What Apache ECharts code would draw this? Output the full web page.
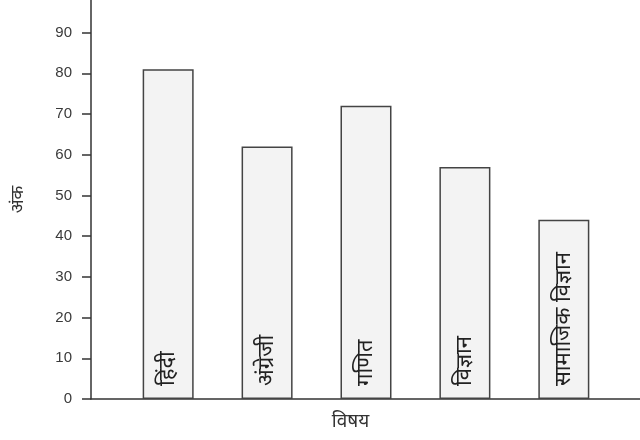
<!DOCTYPE html>
<html>
<head>
<meta charset="utf-8">
<script src="https://cdn.jsdelivr.net/npm/echarts@6/dist/echarts.min.js"></script>
<style>html,body{margin:0;padding:0;background:#fff}#c{width:640px;height:440px}</style>
</head>
<body>
<div id="c"></div>
<script>
const categories = ['हिंदी', 'अंग्रेजी', 'गणित', 'विज्ञान', 'सामाजिक विज्ञान'];
const marks = [81, 62, 72, 57, 44];
const yTicks = [0, 10, 20, 30, 40, 50, 60, 70, 80, 90];
const xAxisName = 'विषय';
const yAxisName = 'अंक';

const chart = echarts.init(document.getElementById('c'));
const dark = '#333';
chart.setOption({
  animation: false,
  backgroundColor: '#fff',
  grid: { left: 91, right: 0, top: 0, bottom: 41, containLabel: false, outerBoundsMode: 'none' },
  xAxis: {
    type: 'value', min: -0.78, max: 4.77,
    axisLine: { show: true, onZero: false, lineStyle: { color: dark, width: 1.5 } },
    axisTick: { show: false }, axisLabel: { show: false }, splitLine: { show: false },
    name: xAxisName, nameLocation: 'middle', nameGap: 13,
    nameTextStyle: { color: dark, fontSize: 19, fontFamily: 'Noto Sans, sans-serif', padding: [0, 30, 0, 0] }
  },
  yAxis: {
    type: 'value', min: 0, max: 98, interval: 10,
    axisLine: { show: true, onZero: false, lineStyle: { color: dark, width: 1.5 } },
    axisTick: { show: true, inside: false, length: 9, customValues: yTicks, lineStyle: { color: dark, width: 1.5 } },
    axisLabel: { customValues: yTicks, margin: 19, color: '#3a3a3a', fontSize: 15, fontFamily: 'Liberation Sans, Arial, sans-serif' },
    splitLine: { show: false },
    name: yAxisName, nameLocation: 'middle', nameGap: 64, nameRotate: 90,
    nameTextStyle: { color: dark, fontSize: 18, fontFamily: 'Noto Sans, sans-serif' }
  },
  series: [{
    type: 'bar',
    barWidth: 51,
    data: marks.map((v, i) => [i, v]),
    itemStyle: { color: '#f3f3f3', borderColor: '#444', borderWidth: 1.5 },
    label: {
      show: true, position: 'insideBottom', rotate: 90, align: 'left', verticalAlign: 'middle',
      distance: 13, color: '#222', fontSize: 22, fontFamily: 'Noto Sans, sans-serif',
      formatter: p => categories[p.dataIndex]
    }
  }]
});
</script>
</body>
</html>
